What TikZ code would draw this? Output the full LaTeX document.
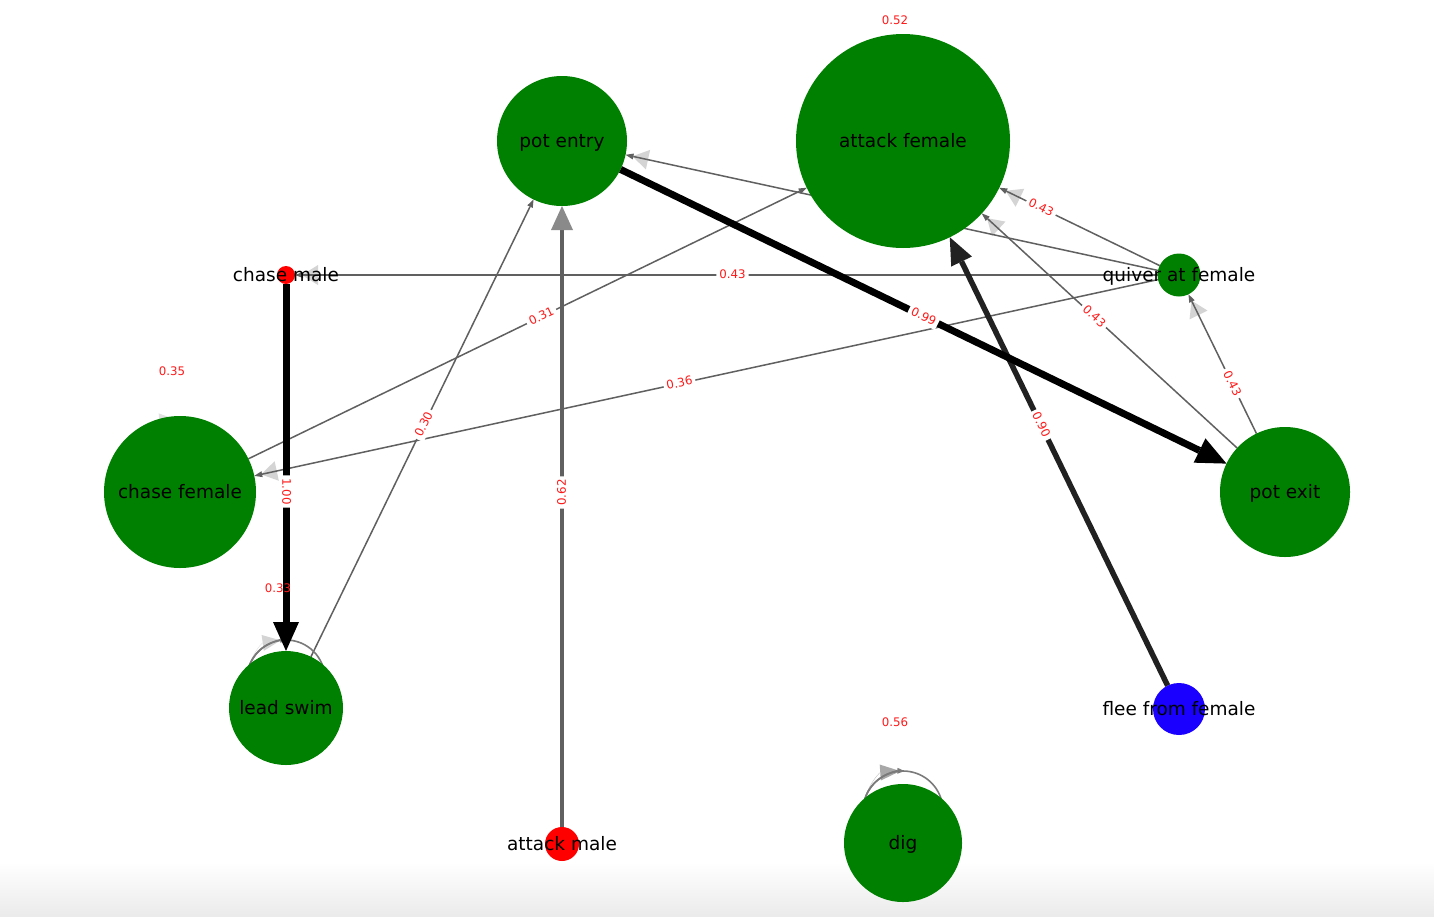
\documentclass[tikz,border=0pt]{standalone}
\usepackage{fontspec}
\setmainfont{DejaVu Sans}
\usetikzlibrary{arrows.meta,calc}
\definecolor{ngreen}{HTML}{008000}
\definecolor{nred}{HTML}{FF0000}
\definecolor{nblue}{HTML}{1A00FF}
\definecolor{edgegray}{HTML}{606060}
\definecolor{loopgray}{HTML}{7A7A7A}
\definecolor{ghostgray}{HTML}{D4D4D4}
\definecolor{ghostdark}{HTML}{A8A8A8}
\definecolor{arrowgray}{HTML}{8A8A8A}
\definecolor{lblred}{HTML}{FF1A1A}
\newcommand{\nlfont}{\fontsize{18.5}{22}\selectfont}
\newcommand{\elfont}{\fontsize{11.8}{14}\selectfont}
\begin{document}
\begin{tikzpicture}[x=1pt,y=-1pt,
  vert/.style={circle, inner sep=0pt, outer sep=0pt, draw=none, minimum size=#1},
  nlabel/.style={font=\nlfont, text=black, inner sep=0pt, text height=15pt, text depth=3pt},
  elabel/.style={font=\elfont, text=lblred, fill=white, rounded corners=2pt, inner xsep=3pt, inner ysep=2pt, text height=9pt, text depth=1.5pt},
  looplabel/.style={font=\elfont, text=lblred, inner sep=0pt, text height=9pt, text depth=1.5pt},
  thinedge/.style={draw=edgegray, line width=1.5pt, -{Triangle[length=8pt,width=6pt,line width=0pt]}},
  ghost/.style={draw=ghostgray, line width=0.2pt, shorten >=7pt, -{Triangle[length=16pt,width=20pt,line width=0pt]}},
  loopedge/.style={draw=loopgray, line width=1.6pt},
]
% canvas
\path[fill=white] (0,0) rectangle (1434,916);
\shade[top color=white, bottom color=black!8] (0,862) rectangle (1434,916);
\useasboundingbox (0,0) rectangle (1434,916);

% node placeholders (coordinates for nodes drawn later)
\node[vert=130pt] (pe) at (562,141) {};
\node[vert=214pt] (af) at (903,141) {};
\node[vert=18pt]  (cm) at (286,275) {};
\node[vert=43pt]  (q)  at (1179,275) {};
\node[vert=152pt] (cf) at (180,492) {};
\node[vert=130pt] (px) at (1285,492) {};
\node[vert=114pt] (ls) at (286,708) {};
\node[vert=52pt]  (ff) at (1179,709) {};
\node[vert=34pt]  (am) at (562,844) {};
\node[vert=118pt] (dig) at (903,843) {};

% ghost arrowheads
\draw[ghost] (q) -- (pe);
\draw[ghost] (q) -- (cm);
\draw[ghost] (q) -- (cf);
\draw[ghost] (q) -- (af);
\draw[ghost] (px) -- (af);
\draw[ghost] (px) -- (q);
\draw[draw=ghostdark, line width=0.2pt, -{Triangle[length=20pt,width=16pt,line width=0pt]}]
  ($(dig.center)+(-40,-32)$) arc[start angle=180, end angle=266, radius=40];
\draw[draw=ghostgray, line width=0.2pt, -{Triangle[length=18pt,width=16pt,line width=0pt]}]
  ($(ls.center)+(-39,-29)$) arc[start angle=180, end angle=262, radius=39];
\draw[draw=ghostgray!70, line width=0.2pt, -{Triangle[length=18pt,width=16pt,line width=0pt]}]
  ($(cf.center)+(-40,-32)$) arc[start angle=180, end angle=266, radius=40];

% thin edges
\draw[thinedge] (q) -- (pe);
\draw[thinedge] (q) -- (cm);
\draw[thinedge] (q) -- (cf);
\draw[thinedge] (q) -- (af);
\draw[thinedge] (px) -- (af);
\draw[thinedge] (px) -- (q);
\draw[thinedge] (cf) -- (af);
\draw[thinedge] (ls) -- (pe);

% self loops
\draw[loopedge] ($(ls.center)+(0,-29)$) circle[radius=39];
\draw[loopedge] ($(dig.center)+(0,-32)$) circle[radius=40];
\draw[loopedge, -{Triangle[length=7pt,width=6pt,line width=0pt]}]
  ($(dig.center)+(-40,-32)$) arc[start angle=180, end angle=272, radius=40];
\draw[loopedge, -{Triangle[length=7pt,width=6pt,line width=0pt]}]
  ($(ls.center)+(-39,-29)$) arc[start angle=180, end angle=272, radius=39];

% thick edges
\draw[draw=edgegray, line width=3.5pt, -{Triangle[length=24pt,width=22pt,line width=0pt,color=arrowgray]}] (am) -- (pe);
\draw[draw=black!87, line width=5.5pt, -{Triangle[length=27pt,width=23pt,line width=0pt]}] (ff) -- (af);
\draw[draw=black, line width=7pt, -{Triangle[length=30pt,width=27pt,line width=0pt]}] (pe) -- (px);
\draw[draw=black, line width=7pt, -{Triangle[length=29pt,width=26pt,line width=0pt]}] (cm) -- (ls);

% edge labels
\path (pe.center) -- (px.center) node[midway, sloped, elabel] (l1) {0.99};
\path (ff.center) -- (af.center) node[midway, sloped, elabel] (l2) {0.90};
\path (cm.center) -- (ls.center) node[midway, sloped, elabel] (l3) {1.00};
\path (am.center) -- (pe.center) node[midway, sloped, elabel] (l4) {0.62};
\path (q.center) -- (cm.center) node[midway, sloped, elabel] (l5) {0.43};
\path (q.center) -- (cf.center) node[midway, sloped, elabel] (l6) {0.36};
\path (cf.center) -- (af.center) node[midway, sloped, elabel] (l7) {0.31};
\path (ls.center) -- (pe.center) node[midway, sloped, elabel] (l8) {0.30};
\path (q.center) -- (af.center) node[midway, sloped, elabel] (l9) {0.43};
\path (px.center) -- (af.center) node[midway, sloped, elabel] (l10) {0.43};
\path (px.center) -- (q.center) node[midway, sloped, elabel] (l11) {0.43};

% nodes
\node[vert=130pt, fill=ngreen] (pe-c) at (pe.center) {};
\node[vert=214pt, fill=ngreen] (af-c) at (af.center) {};
\node[vert=18pt, fill=nred] (cm-c) at (cm.center) {};
\node[vert=43pt, fill=ngreen] (q-c) at (q.center) {};
\node[vert=152pt, fill=ngreen] (cf-c) at (cf.center) {};
\node[vert=130pt, fill=ngreen] (px-c) at (px.center) {};
\node[vert=114pt, fill=ngreen] (ls-c) at (ls.center) {};
\node[vert=52pt, fill=nblue] (ff-c) at (ff.center) {};
\node[vert=34pt, fill=nred] (am-c) at (am.center) {};
\node[vert=118pt, fill=ngreen] (dig-c) at (dig.center) {};

% node labels
\node[nlabel] (pe-t) at (pe.center) {pot entry};
\node[nlabel] (af-t) at (af.center) {attack female};
\node[nlabel] (cm-t) at (cm.center) {chase male};
\node[nlabel] (q-t) at (q.center) {quiver at female};
\node[nlabel] (cf-t) at (cf.center) {chase female};
\node[nlabel] (px-t) at (px.center) {pot exit};
\node[nlabel] (ls-t) at (ls.center) {lead swim};
\node[nlabel] (ff-t) at (ff.center) {flee from female};
\node[nlabel] (am-t) at (am.center) {attack male};
\node[nlabel] (dig-t) at (dig.center) {dig};

% self-loop labels
\node[looplabel] (afl) at ($(af.center)+(-8,-120)$) {0.52};
\node[looplabel] (cfl) at ($(cf.center)+(-8,-120)$) {0.35};
\node[looplabel] (lsl) at ($(ls.center)+(-8,-119)$) {0.33};
\node[looplabel] (digl) at ($(dig.center)+(-8,-120)$) {0.56};
\end{tikzpicture}
\end{document}
